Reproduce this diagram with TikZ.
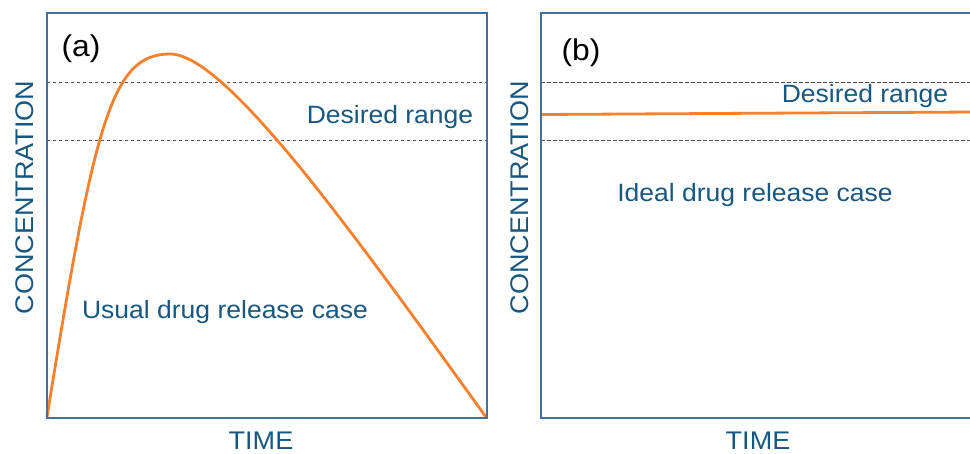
\documentclass[tikz,border=0pt]{standalone}
\usepackage{fontspec}
\setmainfont{Liberation Sans}[FakeStretch=1.06]
\definecolor{frameblue}{RGB}{65,113,156}
\definecolor{labelblue}{RGB}{24,88,128}
\definecolor{guidegray}{RGB}{80,80,80}
\definecolor{curveorange}{RGB}{245,128,45}
\begin{document}
\begin{tikzpicture}[x=1pt,y=-1pt,
  frame/.style={draw=frameblue,line width=2pt},
  guide/.style={draw=guidegray,line width=0.9pt,dash pattern=on 3.5pt off 2.5pt},
  release/.style={draw=curveorange,line width=2.8pt,line join=round,line cap=round},
  label/.style={text=labelblue,font=\fontsize{25}{30}\selectfont,inner sep=0pt,anchor=base},
  axislabel/.style={label,font=\fontsize{25.5}{30}\selectfont},
  tag/.style={text=black,font=\fontsize{30}{36}\selectfont,inner sep=0pt,anchor=base}]
\useasboundingbox (0,0) rectangle (970,453);
\fill[white] (0,0) rectangle (970,453);
\clip (0,0) rectangle (970,453);

% ---------- panel (a): usual release ----------
\coordinate (a-hi-l) at (46.5,82);  \coordinate (a-hi-r) at (486.5,82);
\coordinate (a-lo-l) at (46.5,140); \coordinate (a-lo-r) at (486.5,140);
\draw[guide] (a-hi-l) -- (a-hi-r);
\draw[guide] (a-lo-l) -- (a-lo-r);
% concentration rises steeply, peaks, then decays to zero
\coordinate (a-start) at (47,417);
\coordinate (a-peak) at (170,54);
\coordinate (a-fall) at (277,140);
\coordinate (a-end) at (486,417);
\draw[release] (a-start) .. controls (95,119) and (112,54) .. (a-peak)
  .. controls (200,54) and (247,105.5) .. (a-fall)
  .. controls (337,209) and (426,334) .. (a-end);
\coordinate (a-nw) at (46.5,12.5); \coordinate (a-se) at (486.5,417.5);
\draw[frame] (a-nw) rectangle (a-se);

\node[tag] (a-tag) at (81,56) {(a)};
\node[label] (a-range) at (390,123) {Desired range};
\node[label] (a-case) at (225,318) {Usual drug release case};
\node[axislabel,rotate=90] (a-y) at (33,197.5) {CONCENTRATION};
\node[axislabel] (a-x) at (261,449) {TIME};

% ---------- panel (b): ideal release ----------
\coordinate (b-hi-l) at (541,82);  \coordinate (b-hi-r) at (975,82);
\coordinate (b-lo-l) at (541,140); \coordinate (b-lo-r) at (975,140);
\draw[guide] (b-hi-l) -- (b-hi-r);
\draw[guide] (b-lo-l) -- (b-lo-r);
\coordinate (b-flat-l) at (541,114.5); \coordinate (b-flat-r) at (975,112);
\draw[release,line cap=butt] (b-flat-l) -- (b-flat-r);
\coordinate (b-nw) at (541,12.5); \coordinate (b-se) at (1000,417.5);
\draw[frame] (b-nw) rectangle (b-se);

\node[tag] (b-tag) at (581,60) {(b)};
\node[label] (b-range) at (865,102.5) {Desired range};
\node[label] (b-case) at (755,201.5) {Ideal drug release case};
\node[axislabel,rotate=90] (b-y) at (528,197.5) {CONCENTRATION};
\node[axislabel] (b-x) at (758,449) {TIME};
\end{tikzpicture}
\end{document}
